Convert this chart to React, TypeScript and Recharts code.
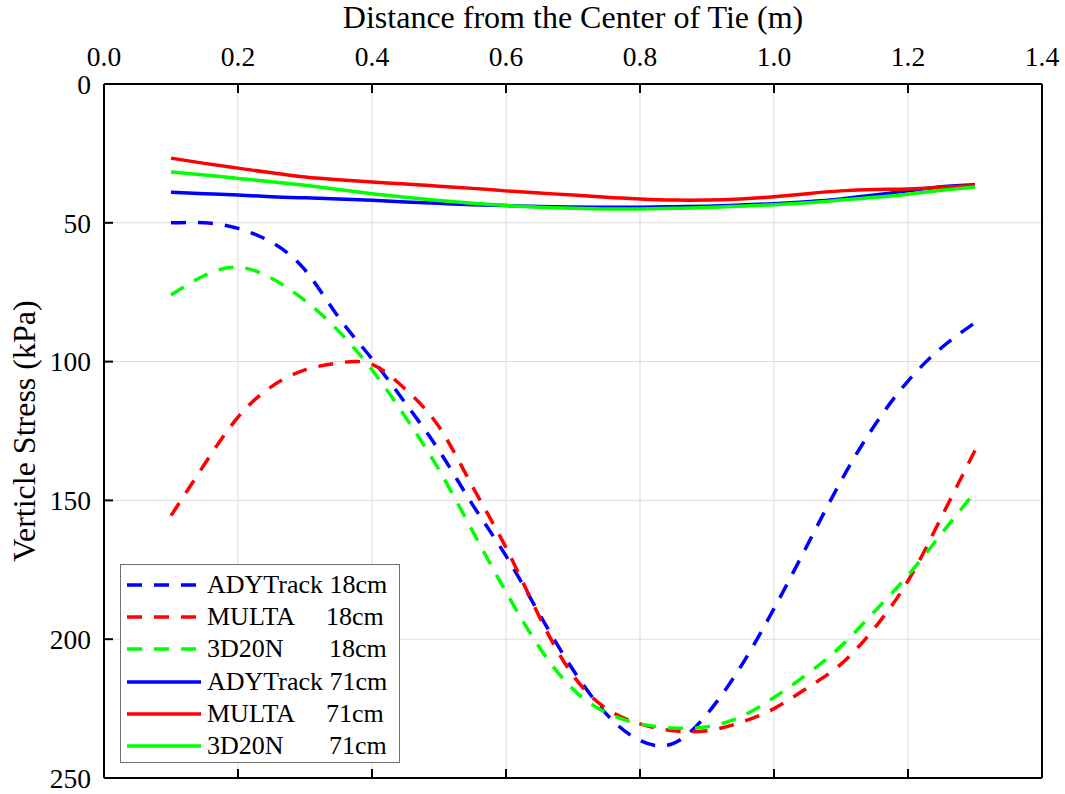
import { LineChart, Line, XAxis, YAxis, CartesianGrid, Legend } from "recharts";

const FONT = "'Liberation Serif', 'Times New Roman', serif";

// distance from tie centre (m)
const xs = [
  0.1, 0.15, 0.2, 0.25, 0.3, 0.35, 0.4, 0.45, 0.5, 0.55, 0.6, 0.65, 0.7, 0.75,
  0.8, 0.85, 0.9, 0.95, 1.0, 1.05, 1.1, 1.15, 1.2, 1.25, 1.3,
];

// vertical stress (kPa), 18cm depth
const ady18 = [
  50, 50, 52, 57, 67, 84, 99, 115, 132, 151.5, 170, 191, 211, 227, 236.5, 237.5,
  227, 210, 189, 166, 143, 123, 107, 95, 86,
];
const multa18 = [
  155.5, 137, 120, 109, 103, 100.5, 101, 110, 123.5, 145, 167, 192, 213, 225,
  230.5, 233, 233, 230, 225, 217.5, 209, 196, 179, 156, 132,
];
const d3d18 = [
  76, 69, 66, 70, 78, 89, 103, 120, 139, 161, 183, 203, 218, 226.5, 230.5, 232,
  231.5, 228, 221, 212.5, 202.5, 190, 177, 162, 147,
];

// 71cm depth
const ady71 = [
  39, 39.5, 40, 40.6, 41, 41.4, 41.9, 42.5, 43, 43.5, 43.8, 44.1, 44.3, 44.4,
  44.4, 44.2, 44, 43.6, 43.1, 42.4, 41.4, 40, 38.5, 37, 36.3,
];
const multa71 = [
  26.7, 28.6, 30.3, 32, 33.5, 34.5, 35.3, 36, 36.8, 37.6, 38.5, 39.3, 40, 40.8,
  41.4, 41.8, 41.8, 41.4, 40.6, 39.5, 38.5, 38, 37.8, 37.2, 36.6,
];
const d3d71 = [
  31.7, 32.8, 34, 35.2, 36.5, 38, 39.5, 40.8, 42, 43, 43.8, 44.4, 44.8, 45, 45,
  44.8, 44.5, 44, 43.5, 42.8, 41.8, 40.8, 39.7, 38.3, 37.1,
];

const xTicks = [0, 0.2, 0.4, 0.6, 0.8, 1.0, 1.2, 1.4];
const yTicks = [0, 50, 100, 150, 200, 250];

const series = [
  { key: "ady18", name: "ADYTrack 18cm", color: "#0000ff", dashed: true, values: ady18 },
  { key: "multa18", name: "MULTA     18cm", color: "#ff0000", dashed: true, values: multa18 },
  { key: "d3d18", name: "3D20N       18cm", color: "#00ff00", dashed: true, values: d3d18 },
  { key: "ady71", name: "ADYTrack 71cm", color: "#0000ff", dashed: false, values: ady71 },
  { key: "multa71", name: "MULTA     71cm", color: "#ff0000", dashed: false, values: multa71 },
  { key: "d3d71", name: "3D20N       71cm", color: "#00ff00", dashed: false, values: d3d71 },
];

const data = xs.map((x, i) => {
  const row: Record<string, number> = { x };
  series.forEach((s) => (row[s.key] = s.values[i]));
  return row;
});

const DASH = "15 12";

// legend drawn in series order (recharts 3 sorts its payload)
function renderLegend() {
  return (
    <div
      style={{
        width: 280,
        height: 199,
        boxSizing: "border-box",
        border: "1.5px solid #707070",
        background: "#fff",
        paddingTop: 4,
        fontFamily: FONT,
      }}
    >
      {series.map((s) => (
        <div
          key={s.key}
          style={{ height: 32.2, display: "flex", alignItems: "center" }}
        >
          <svg width={80} height={10}>
            <line
              x1={6}
              x2={80}
              y1={5}
              y2={5}
              stroke={s.color}
              strokeWidth={3.5}
              strokeDasharray={s.dashed ? DASH : undefined}
            />
          </svg>
          <span
            style={{
              marginLeft: 6,
              fontSize: 26,
              lineHeight: 1,
              whiteSpace: "pre",
              color: "#000",
            }}
          >
            {s.name}
          </span>
        </div>
      ))}
    </div>
  );
}

const tickStyle = { fill: "#000", fontSize: 27.5 };
const axisLine = { stroke: "#000", strokeWidth: 2 };

export default function App() {
  return (
    <div
      style={{
        position: "absolute",
        left: 0,
        top: 0,
        width: 1065,
        height: 794,
        background: "#fff",
        fontFamily: FONT,
      }}
    >
      <style>{`.recharts-wrapper text { font-family: ${FONT} !important; }`}</style>
      <LineChart
        width={1065}
        height={794}
        data={data}
        margin={{ top: 0, right: 0, bottom: 0, left: 0 }}
      >
        <CartesianGrid
          xAxisId="top"
          yAxisId="left"
          stroke="#dcdcdc"
          strokeWidth={1}
        />
        <XAxis
          xAxisId="top"
          orientation="top"
          dataKey="x"
          type="number"
          domain={[0, 1.4]}
          ticks={xTicks}
          allowDataOverflow
          height={84}
          tick={tickStyle}
          tickFormatter={(v: number) => v.toFixed(1)}
          tickSize={-9}
          tickMargin={27}
          axisLine={axisLine}
          tickLine={axisLine}
          label={{
            value: "Distance from the Center of Tie (m)",
            position: "insideTop",
            offset: 5,
            fontSize: 32,
            fill: "#000",
          }}
        />
        <XAxis
          xAxisId="bottom"
          orientation="bottom"
          dataKey="x"
          type="number"
          domain={[0, 1.4]}
          ticks={xTicks}
          allowDataOverflow
          height={16}
          tickFormatter={() => ""}
          tickSize={-9}
          axisLine={axisLine}
          tickLine={axisLine}
        />
        <YAxis
          yAxisId="left"
          orientation="left"
          type="number"
          domain={[0, 250]}
          ticks={yTicks}
          reversed
          width={104}
          tick={tickStyle}
          tickSize={-9}
          tickMargin={22}
          axisLine={axisLine}
          tickLine={axisLine}
          label={{
            value: "Verticle Stress (kPa)",
            angle: -90,
            position: "insideLeft",
            offset: 24,
            fontSize: 32,
            fill: "#000",
            style: { textAnchor: "middle" },
          }}
        />
        <YAxis
          yAxisId="right"
          orientation="right"
          type="number"
          domain={[0, 250]}
          ticks={yTicks}
          reversed
          width={23}
          tickFormatter={() => ""}
          tickSize={-9}
          axisLine={axisLine}
          tickLine={axisLine}
        />
        <Legend
          layout="vertical"
          align="center"
          verticalAlign="middle"
          content={renderLegend}
          wrapperStyle={{ left: 120, top: 564, width: 280 }}
        />
        {series.map((s) => (
          <Line
            key={s.key}
            xAxisId="top"
            yAxisId="left"
            dataKey={s.key}
            name={s.name}
            type="natural"
            stroke={s.color}
            strokeWidth={3.5}
            strokeDasharray={s.dashed ? DASH : undefined}
            dot={false}
            activeDot={false}
            isAnimationActive={false}
          />
        ))}
      </LineChart>
    </div>
  );
}
